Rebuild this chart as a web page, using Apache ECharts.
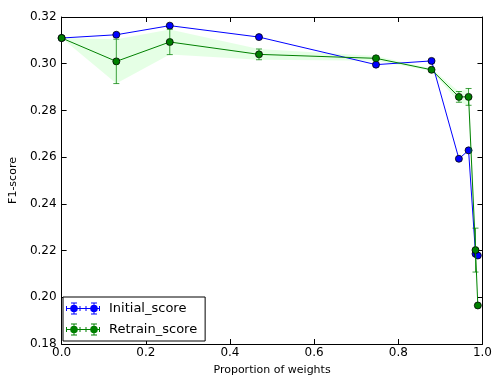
<!DOCTYPE html>
<html>
<head>
<meta charset="utf-8">
<script src="https://cdn.jsdelivr.net/npm/echarts@6/dist/echarts.min.js"></script>
<style>html,body{margin:0;padding:0;background:#fff}#c{width:495px;height:381px}</style>
</head>
<body>
<div id="c"></div>
<script>
const proportions = [0, 0.13, 0.257, 0.469, 0.747, 0.879, 0.944, 0.967, 0.9835, 0.989];
const initialScore = [0.311, 0.3124, 0.3163, 0.3114, 0.2996, 0.3012, 0.2593, 0.2629, 0.2186, 0.2179];
const retrainScore = [0.311, 0.301, 0.3093, 0.304, 0.3023, 0.2974, 0.2858, 0.2858, 0.2202, 0.1965];
const retrainStd = [0, 0.0095, 0.0054, 0.0023, 0.0010, 0.0005, 0.0023, 0.0036, 0.0094, 0];
const xTicks = [0, 0.2, 0.4, 0.6, 0.8, 1.0];
const yTicks = [0.18, 0.20, 0.22, 0.24, 0.26, 0.28, 0.30, 0.32];

const FONT = 'DejaVu Sans';
const BLUE = '#0000ff';
const GREEN = '#008000';

const legendIcon = 'path://' +
  'M0,5.5H34V6.5H0Z' +
  'M0,3.5H1V8.5H0Z M13.5,3.5H14.5V8.5H13.5Z M19.5,3.5H20.5V8.5H19.5Z M33,3.5H34V8.5H33Z' +
  'M7.5,0H8.5V12H7.5Z M5,0H11V1H5Z M5,11H11V12H5Z' +
  'M27.5,0H28.5V12H27.5Z M25,0H31V1H25Z M25,11H31V12H25Z' +
  'M4.2,6A3.8,3.8 0 1,1 11.8,6A3.8,3.8 0 1,1 4.2,6Z' +
  'M24.2,6A3.8,3.8 0 1,1 31.8,6A3.8,3.8 0 1,1 24.2,6Z';

const lineData = (ys) => proportions.map((x, i) => [x, ys[i]]);
const errData = proportions.map((x, i) => [x, retrainScore[i] - retrainStd[i], retrainScore[i] + retrainStd[i]])
  .filter((d, i) => retrainStd[i] > 0);
const bandData = proportions.map((x, i) => [x, retrainScore[i] - retrainStd[i], retrainScore[i] + retrainStd[i]]);

const axisCommon = {
  axisLine: { show: true, onZero: false, lineStyle: { color: '#000', width: 1 } },
  axisTick: { show: true, inside: true, length: 5, lineStyle: { color: '#000', width: 1 } },
  splitLine: { show: false }
};

const chart = echarts.init(document.getElementById('c'), null, { renderer: 'canvas' });
chart.setOption({
  animation: false,
  backgroundColor: '#fff',
  textStyle: { fontFamily: FONT },
  grid: { left: 57, right: 11, top: 17, bottom: 34, containLabel: false },
  xAxis: [
    Object.assign({
      type: 'value', min: 0, max: 1, interval: 0.2, position: 'bottom',
      name: 'Proportion of weights', nameLocation: 'middle', nameGap: 21,
      nameTextStyle: { fontFamily: FONT, fontSize: 11, color: '#000' },
      axisLabel: { fontFamily: FONT, fontSize: 12, color: '#000', margin: 3,
        formatter: v => v.toFixed(1) }
    }, axisCommon),
    Object.assign({
      type: 'value', min: 0, max: 1, interval: 0.2, position: 'top',
      axisLabel: { show: false }
    }, axisCommon)
  ],
  yAxis: [
    Object.assign({
      type: 'value', min: 0.18, max: 0.32, interval: 0.02, position: 'left',
      name: 'F1-score', nameLocation: 'middle', nameGap: 34,
      nameTextStyle: { fontFamily: FONT, fontSize: 11, color: '#000' },
      axisLabel: { fontFamily: FONT, fontSize: 12, color: '#000', margin: 5,
        formatter: v => v.toFixed(2) }
    }, axisCommon),
    Object.assign({
      type: 'value', min: 0.18, max: 0.32, interval: 0.02, position: 'right',
      axisLabel: { show: false }
    }, axisCommon)
  ],
  legend: {
    orient: 'vertical', left: 63, top: 297,
    padding: [5, 8, 5, 3],
    itemWidth: 34, itemHeight: 12, itemGap: 8,
    borderColor: '#000', borderWidth: 1, backgroundColor: '#fff',
    textStyle: { fontFamily: FONT, fontSize: 13, color: '#000', padding: [0, 0, 0, 4] },
    data: [
      { name: 'Initial_score', icon: legendIcon, itemStyle: { color: BLUE, borderWidth: 0 } },
      { name: 'Retrain_score', icon: legendIcon, itemStyle: { color: GREEN, borderWidth: 0 } }
    ]
  },
  series: [
    {
      name: 'band', type: 'custom', xAxisIndex: 0, yAxisIndex: 0, z: 1,
      silent: true, clip: true,
      data: bandData,
      encode: { x: 0, y: [1, 2] },
      renderItem: (params, api) => {
        if (params.dataIndex !== 0) return null;
        const upper = bandData.map(d => api.coord([d[0], d[2]]));
        const lower = bandData.map(d => api.coord([d[0], d[1]])).reverse();
        return {
          type: 'polygon',
          shape: { points: upper.concat(lower) },
          style: { fill: 'rgba(0,255,0,0.1)', stroke: null }
        };
      }
    },
    {
      name: 'Initial_score', type: 'line', z: 3,
      data: lineData(initialScore),
      symbol: 'circle', symbolSize: 7,
      lineStyle: { color: BLUE, width: 1 },
      itemStyle: { color: BLUE, borderColor: '#000', borderWidth: 0.8 }
    },
    {
      name: 'Retrain_score', type: 'line', z: 4,
      data: lineData(retrainScore),
      symbol: 'circle', symbolSize: 7,
      lineStyle: { color: GREEN, width: 1 },
      itemStyle: { color: GREEN, borderColor: '#000', borderWidth: 0.8 }
    },
    {
      name: 'Retrain_err', type: 'custom', z: 5, silent: true,
      data: errData,
      encode: { x: 0, y: [1, 2] },
      renderItem: (params, api) => {
        const x = api.value(0), lo = api.value(1), hi = api.value(2);
        const p1 = api.coord([x, hi]), p2 = api.coord([x, lo]);
        const w = 3;
        const st = { stroke: GREEN, lineWidth: 1, opacity: 0.75 };
        return { type: 'group', children: [
          { type: 'line', shape: { x1: p1[0], y1: p1[1], x2: p2[0], y2: p2[1] }, style: st },
          { type: 'line', shape: { x1: p1[0] - w, y1: p1[1], x2: p1[0] + w, y2: p1[1] }, style: st },
          { type: 'line', shape: { x1: p2[0] - w, y1: p2[1], x2: p2[0] + w, y2: p2[1] }, style: st }
        ]};
      }
    }
  ]
});
</script>
</body>
</html>
